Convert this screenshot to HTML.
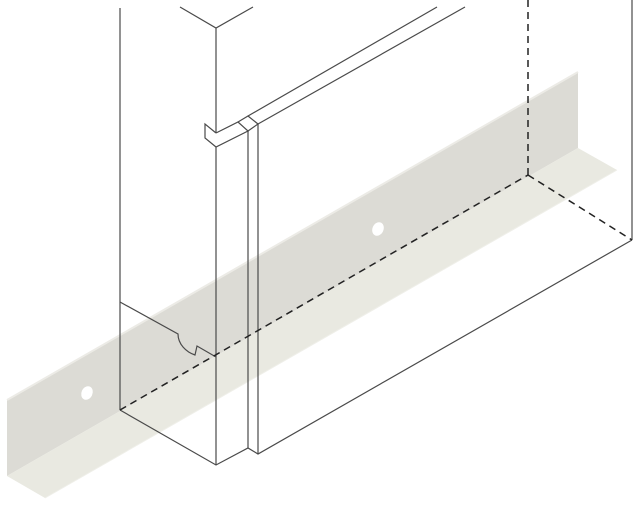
<!DOCTYPE html>
<html><head><meta charset="utf-8"><style>html,body{margin:0;padding:0;background:#fff}svg{display:block}</style></head>
<body>
<svg width="640" height="507" viewBox="0 0 640 507" xmlns="http://www.w3.org/2000/svg">
<polygon points="7,400 578,72 578,148 7,476" fill="#dcdbd5"/>
<polygon points="7,476 578,148 617,170 45,498" fill="#e9e9e1"/>
<line x1="7" y1="400" x2="578" y2="72" stroke="#ecebe6" stroke-width="2"/>
<line x1="617" y1="170" x2="45" y2="498" stroke="#efefe9" stroke-width="1"/>
<ellipse cx="87" cy="393" rx="5.5" ry="7" transform="rotate(25 87 393)" fill="#fff"/>
<ellipse cx="378" cy="229" rx="5.5" ry="7" transform="rotate(25 378 229)" fill="#fff"/>
<g fill="none" stroke="#4a4a4a" stroke-width="1.2">
<line x1="120" y1="8" x2="120" y2="410"/>
<polyline points="180,7 216,28 253,7"/>
<line x1="216" y1="28" x2="216" y2="133"/>
<polyline points="216,133 205,124 205,138 216,147 248,131 238,122 216,133"/>
<polyline points="238,122 248,116 258,124 248,131"/>
<line x1="248" y1="116" x2="437" y2="7"/>
<line x1="258" y1="124" x2="465" y2="7"/>
<line x1="216" y1="147" x2="216" y2="465"/>
<line x1="248" y1="131" x2="248" y2="448"/>
<line x1="258" y1="124" x2="258" y2="454"/>
<polyline points="120,410 216,465 248,448 258,454 632,240"/>
<line x1="632" y1="0" x2="632" y2="240"/>
<path d="M120,302 L178,334 C178,344 186,352 195,355 L197,346 L216,357"/>
</g>
<g fill="none" stroke="#222" stroke-width="1.5" stroke-dasharray="7,5">
<line x1="120" y1="410" x2="528" y2="175"/>
<line x1="528" y1="175" x2="632" y2="240"/>
<line x1="528" y1="0" x2="528" y2="175"/>
</g>
</svg>
</body></html>
